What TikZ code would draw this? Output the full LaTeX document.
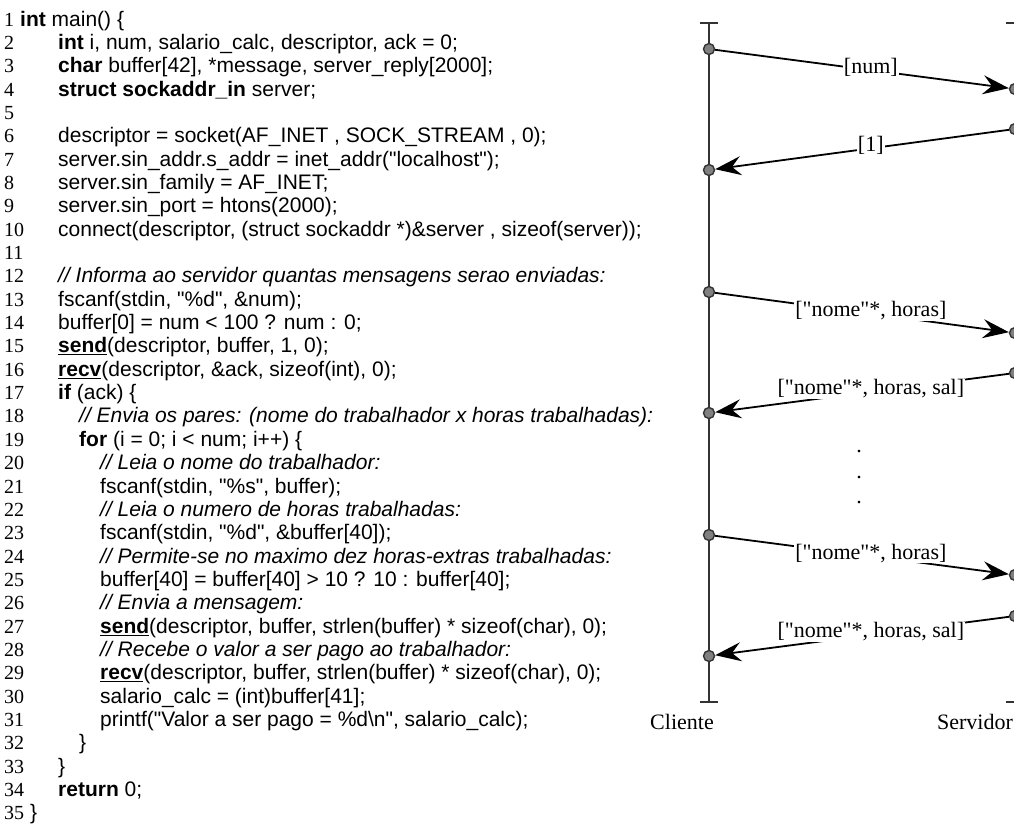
\documentclass[tikz,border=0pt]{standalone}
\usepackage{fontspec}
\setmainfont{Liberation Serif}
\newfontfamily\codefont{Liberation Sans}
\newfontfamily\msgfont{Liberation Serif}
\usetikzlibrary{arrows.meta}

\tikzset{
  code/.style={anchor=base west, inner sep=0pt, font=\codefont\fontsize{21}{24}\selectfont},
  lnum/.style={anchor=base west, inner sep=0pt, font=\fontsize{20}{24}\selectfont},
  msg/.style={fill=white, inner sep=1pt, yshift=3pt, font=\msgfont\fontsize{22}{26}\selectfont},
  actor/.style={font=\msgfont\fontsize{22}{26}\selectfont},
  dot/.style={circle, draw=black!80, fill=black!50, line width=1.4pt, minimum size=11pt, inner sep=0pt},
  life/.style={draw=black!80, line width=2.2pt},
  arr/.style={-{Stealth[length=26pt,width=19pt,inset=9pt]}, line width=1.8pt},
}
% baseline of code line #1
\newcommand{\lny}[1]{{26+(#1-1)*23.35}}

\begin{document}
\begin{tikzpicture}[x=1pt,y=-1pt]
\useasboundingbox (0,0) rectangle (1014,825);

% line numbers
\foreach \n in {1,...,35}
  \node[lnum] (N\n) at (4,\lny{\n}) {\n};

% code
\node[code] (L1) at (20,\lny{1}) {\textbf{int} main() \{};
\node[code] (L2) at (58,\lny{2}) {\textbf{int} i, num, salario\_calc, descriptor, ack = 0;};
\node[code] (L3) at (58,\lny{3}) {\textbf{char} buffer[42], *message, server\_reply[2000];};
\node[code] (L4) at (58,\lny{4}) {\textbf{struct sockaddr\_in} server;};
\node[code] (L6) at (58,\lny{6}) {descriptor = socket(AF\_INET , SOCK\_STREAM , 0);};
\node[code] (L7) at (58,\lny{7}) {server.sin\_addr.s\_addr = inet\_addr("localhost");};
\node[code] (L8) at (58,\lny{8}) {server.sin\_family = AF\_INET;};
\node[code] (L9) at (58,\lny{9}) {server.sin\_port = htons(2000);};
\node[code] (L10) at (58,\lny{10}) {connect(descriptor, (struct sockaddr *)\&server , sizeof(server));};
\node[code] (L12) at (58,\lny{12}) {\textit{// Informa ao servidor quantas mensagens serao enviadas:}};
\node[code] (L13) at (58,\lny{13}) {fscanf(stdin, "\%d", \&num);};
\node[code] (L14) at (58,\lny{14}) {buffer[0] = num < 100 ? num : 0;};
\node[code] (L15) at (58,\lny{15}) {\underline{\textbf{send}}(descriptor, buffer, 1, 0);};
\node[code] (L16) at (58,\lny{16}) {\underline{\textbf{recv}}(descriptor, \&ack, sizeof(int), 0);};
\node[code] (L17) at (58,\lny{17}) {\textbf{if} (ack) \{};
\node[code] (L18) at (79,\lny{18}) {\textit{// Envia os pares: (nome do trabalhador x horas trabalhadas):}};
\node[code] (L19) at (79,\lny{19}) {\textbf{for} (i = 0; i < num; i++) \{};
\node[code] (L20) at (100,\lny{20}) {\textit{// Leia o nome do trabalhador:}};
\node[code] (L21) at (100,\lny{21}) {fscanf(stdin, "\%s", buffer);};
\node[code] (L22) at (100,\lny{22}) {\textit{// Leia o numero de horas trabalhadas:}};
\node[code] (L23) at (100,\lny{23}) {fscanf(stdin, "\%d", \&buffer[40]);};
\node[code] (L24) at (100,\lny{24}) {\textit{// Permite-se no maximo dez horas-extras trabalhadas:}};
\node[code] (L25) at (100,\lny{25}) {buffer[40] = buffer[40] > 10 ? 10 : buffer[40];};
\node[code] (L26) at (100,\lny{26}) {\textit{// Envia a mensagem:}};
\node[code] (L27) at (100,\lny{27}) {\underline{\textbf{send}}(descriptor, buffer, strlen(buffer) * sizeof(char), 0);};
\node[code] (L28) at (100,\lny{28}) {\textit{// Recebe o valor a ser pago ao trabalhador:}};
\node[code] (L29) at (100,\lny{29}) {\underline{\textbf{recv}}(descriptor, buffer, strlen(buffer) * sizeof(char), 0);};
\node[code] (L30) at (100,\lny{30}) {salario\_calc = (int)buffer[41];};
\node[code] (L31) at (100,\lny{31}) {printf("Valor a ser pago = \%d\textbackslash n", salario\_calc);};
\node[code] (L32) at (79,\lny{32}) {\}};
\node[code] (L33) at (58,\lny{33}) {\}};
\node[code] (L34) at (58,\lny{34}) {\textbf{return} 0;};
\node[code] (L35) at (30,\lny{35}) {\}};

% lifelines
\coordinate (CT) at (709,23);
\coordinate (CB) at (709,702);
\coordinate (ST) at (1015,23);
\coordinate (SB) at (1015,702);
\draw[life] (CT) -- (CB);
\draw[life] (ST) -- (SB);
\draw[life] ([xshift=-9pt]CT) -- ([xshift=9pt]CT);
\draw[life] ([xshift=-9pt]CB) -- ([xshift=9pt]CB);
\draw[life] ([xshift=-9pt]ST) -- ([xshift=9pt]ST);
\draw[life] ([xshift=-9pt]SB) -- ([xshift=9pt]SB);

% events
\node[dot] (C1) at (709,49) {};
\node[dot] (S1) at (1015,89) {};
\node[dot] (S2) at (1015,129) {};
\node[dot] (C2) at (709,170) {};
\node[dot] (C3) at (709,292) {};
\node[dot] (S3) at (1015,333) {};
\node[dot] (S4) at (1015,373) {};
\node[dot] (C4) at (709,413) {};
\node[dot] (C5) at (709,535) {};
\node[dot] (S5) at (1015,575) {};
\node[dot] (S6) at (1015,616) {};
\node[dot] (C6) at (709,656) {};

% messages
\draw[arr] (C1) -- node[msg, pos=0.53] {[num]} (S1);
\draw[arr] (S2) -- node[msg, pos=0.47] {[1]} (C2);
\draw[arr] (C3) -- node[msg, pos=0.53] {["nome"*, horas]} (S3);
\draw[arr] (S4) -- node[msg, pos=0.47] {["nome"*, horas, sal]} (C4);
\draw[arr] (C5) -- node[msg, pos=0.53] {["nome"*, horas]} (S5);
\draw[arr] (S6) -- node[msg, pos=0.47] {["nome"*, horas, sal]} (C6);

% ellipsis
\foreach \k/\y in {1/452,2/478,3/503}
  \node[actor, inner sep=0pt] (E\k) at (859,\y) {.};

\node[actor] (Cli) at (682,722) {Cliente};
\node[actor] (Srv) at (975,722) {Servidor};
\end{tikzpicture}
\end{document}
